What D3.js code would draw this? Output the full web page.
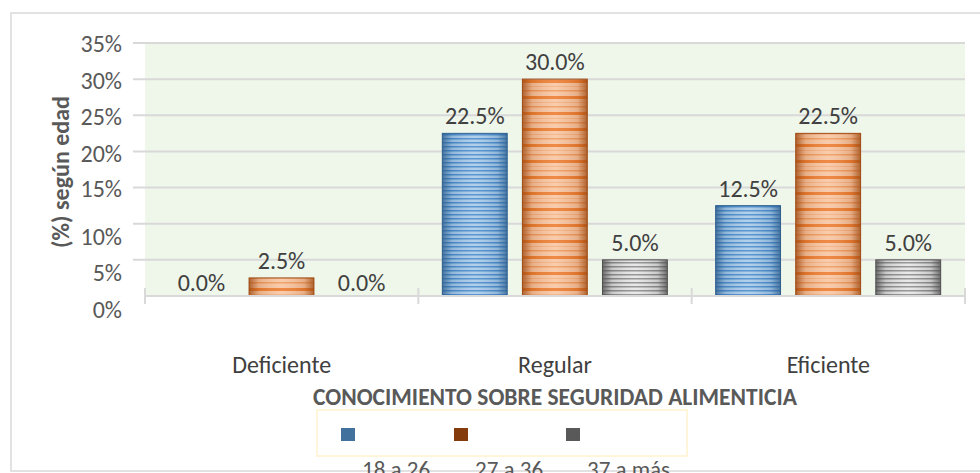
<!DOCTYPE html>
<html>
<head>
<meta charset="utf-8">
<script src="https://cdn.jsdelivr.net/npm/d3@7"></script>
<style>
  body { margin: 0; background: #fff; }
  svg text { font-family: Calibri, Carlito, "Open Sans", "Noto Sans", sans-serif; }
</style>
</head>
<body>
<svg id="chart" width="980" height="473"></svg>
<script>
// data
var categories = ["Deficiente", "Regular", "Eficiente"];
var seriesNames = ["18 a 26", "27 a 36", "37 a más"];
var age18to26 = [0.0, 22.5, 12.5];
var age27to36 = [2.5, 30.0, 22.5];
var age37plus = [0.0, 5.0, 5.0];
var yTicks = [0, 5, 10, 15, 20, 25, 30, 35];

var seriesValues = [age18to26, age27to36, age37plus];
var colors = [
  {light: "#A9CBEA", mid: "#4A8BCB", dark: "#2E5F8E"},
  {light: "#F8C6A2", mid: "#ED7D31", dark: "#9E4A12"},
  {light: "#E7E6E6", mid: "#8C8C8C", dark: "#4F4F4F"}
];

var svg = d3.select("#chart");
var plotLeft = 145, plotRight = 965, plotTop = 43, plotBottom = 296;

var x = d3.scaleBand().domain(categories).range([plotLeft, plotRight]).paddingInner(0).paddingOuter(0);
var xs = d3.scaleBand().domain(d3.range(3)).range([24, 273 - 24]).paddingInner(0.19).paddingOuter(0);
var y = d3.scaleLinear().domain([0, 35]).range([plotBottom, plotTop]);

// outer frame
svg.append("rect").attr("x", 11).attr("y", 13).attr("width", 990).attr("height", 458)
  .attr("fill", "#fff").attr("stroke", "#D9D9D9").attr("stroke-width", 1.5);

// patterns for the striped bars
var defs = svg.append("defs");
colors.forEach(function(c, i) {
  var p = defs.append("pattern").attr("id", "stripe" + i)
    .attr("patternUnits", "userSpaceOnUse").attr("width", 8).attr("height", i == 1 ? 16 : 4);
  if (i == 1) {
    p.append("rect").attr("width", 8).attr("height", 16).attr("fill", c.light);
    p.append("rect").attr("y", 0).attr("width", 8).attr("height", 3).attr("fill", c.mid);
    p.append("rect").attr("y", 6).attr("width", 8).attr("height", 1).attr("fill", "#F4B183");
    p.append("rect").attr("y", 10).attr("width", 8).attr("height", 1.5).attr("fill", "#F19A5E");
  } else {
    p.append("rect").attr("width", 8).attr("height", 4).attr("fill", c.light);
    p.append("rect").attr("y", 2).attr("width", 8).attr("height", 1.5).attr("fill", c.mid);
  }
  var g = defs.append("linearGradient").attr("id", "shade" + i)
    .attr("x1", 0).attr("x2", 1).attr("y1", 0).attr("y2", 0);
  g.append("stop").attr("offset", "0%").attr("stop-color", c.dark).attr("stop-opacity", 0.8);
  g.append("stop").attr("offset", "15%").attr("stop-color", c.dark).attr("stop-opacity", 0.2);
  g.append("stop").attr("offset", "50%").attr("stop-color", "#fff").attr("stop-opacity", 0.1);
  g.append("stop").attr("offset", "85%").attr("stop-color", c.dark).attr("stop-opacity", 0.2);
  g.append("stop").attr("offset", "100%").attr("stop-color", c.dark).attr("stop-opacity", 0.8);
});

// plot background
svg.append("rect").attr("x", plotLeft).attr("y", plotTop)
  .attr("width", plotRight - plotLeft).attr("height", plotBottom - plotTop)
  .attr("fill", "#EFF6EA");

// gridlines
svg.selectAll(".grid").data(yTicks.slice(1)).enter().append("line")
  .attr("x1", plotLeft - 12).attr("x2", plotRight)
  .attr("y1", function(d) { return y(d); }).attr("y2", function(d) { return y(d); })
  .attr("stroke", "#D9D9D9").attr("stroke-width", 2);

// y tick labels (lower ones sit a little low, as in the source)
var labelShift = {0: 14, 5: 13, 10: 13, 15: 1, 20: 2, 25: 1, 30: 1, 35: 1};
svg.selectAll(".ylab").data(yTicks).enter().append("text")
  .attr("x", 122).attr("y", function(d) { return y(d) + labelShift[d]; })
  .attr("dy", "0.35em").attr("text-anchor", "end")
  .attr("font-size", 24).attr("fill", "#595959")
  .text(function(d) { return d + "%"; });

// bars
var groups = svg.selectAll(".cat").data(categories).enter().append("g")
  .attr("transform", function(d) { return "translate(" + x(d) + ",0)"; });

seriesValues.forEach(function(vals, si) {
  groups.append("rect")
    .attr("x", xs(si)).attr("width", xs.bandwidth())
    .attr("y", function(d, ci) { return y(vals[ci]); })
    .attr("height", function(d, ci) { return plotBottom - y(vals[ci]); })
    .attr("fill", "url(#stripe" + si + ")");
  groups.append("rect")
    .attr("x", xs(si)).attr("width", xs.bandwidth())
    .attr("y", function(d, ci) { return y(vals[ci]); })
    .attr("height", function(d, ci) { return plotBottom - y(vals[ci]); })
    .attr("fill", "url(#shade" + si + ")")
    .attr("stroke", colors[si].dark).attr("stroke-width", function(d, ci) { return vals[ci] > 0 ? 1 : 0; });
  groups.append("text")
    .attr("x", xs(si) + xs.bandwidth() / 2)
    .attr("y", function(d, ci) { return y(vals[ci]) - (vals[ci] > 0 ? 9 : 5); })
    .attr("text-anchor", "middle").attr("font-size", 24).attr("fill", "#404040")
    .text(function(d, ci) { return vals[ci].toFixed(1) + "%"; });
});

// x axis line and category separators
svg.append("line").attr("x1", plotLeft).attr("x2", plotRight).attr("y1", plotBottom).attr("y2", plotBottom)
  .attr("stroke", "#D9D9D9").attr("stroke-width", 2);
var seps = categories.map(function(c) { return x(c); }).concat([plotRight]);
svg.selectAll(".sep").data(seps).enter().append("line")
  .attr("x1", function(d) { return d; }).attr("x2", function(d) { return d; })
  .attr("y1", plotBottom - 8).attr("y2", plotBottom + 8)
  .attr("stroke", "#D9D9D9").attr("stroke-width", 2);

// category labels
svg.selectAll(".xlab").data(categories).enter().append("text")
  .attr("x", function(d) { return x(d) + x.bandwidth() / 2; }).attr("y", 373)
  .attr("text-anchor", "middle").attr("font-size", 24).attr("fill", "#404040")
  .text(function(d) { return d; });

// axis titles
svg.append("text").attr("x", 555).attr("y", 405).attr("text-anchor", "middle")
  .attr("font-size", 23.5).attr("font-weight", "bold").attr("fill", "#595959")
  .text("CONOCIMIENTO SOBRE SEGURIDAD ALIMENTICIA");
svg.append("text").attr("transform", "translate(69,172) rotate(-90)").attr("text-anchor", "middle")
  .attr("font-size", 24).attr("font-weight", "bold").attr("fill", "#595959")
  .text("(%) según edad");

// legend
svg.append("rect").attr("x", 317).attr("y", 410).attr("width", 370).attr("height", 46)
  .attr("fill", "#fff").attr("stroke", "#FFF2CC").attr("stroke-width", 1.5);
var legendX = [341, 454, 566];
var legendDark = ["#41719C", "#843C0C", "#595959"];
seriesNames.forEach(function(name, i) {
  svg.append("rect").attr("x", legendX[i]).attr("y", 428).attr("width", 14).attr("height", 13)
    .attr("fill", legendDark[i]);
  svg.append("text").attr("x", legendX[i] + 21).attr("y", 477)
    .attr("font-size", 23).attr("fill", "#595959").text(name);
});
</script>
</body>
</html>
